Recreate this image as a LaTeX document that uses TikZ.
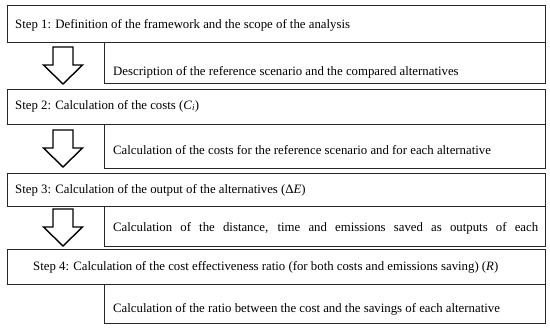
\documentclass[tikz,border=0pt]{standalone}
\usepackage{fontspec}
\setmainfont{Liberation Serif}
\begin{document}
\begin{tikzpicture}[x=1pt,y=-1pt,
  frame/.style={draw=black!85,line width=1pt,inner sep=0pt,anchor=north west},
  stepbox/.style={frame,minimum width=538pt},
  descbox/.style={frame,minimum width=441pt},
  lbl/.style={inner sep=0pt,anchor=west,font=\fontsize{12.8}{14}\selectfont},
  arrowline/.style={draw=black,line width=1.4pt,fill=white,line join=miter},
  blockarrow/.pic={\path[arrowline] (-10,0) -- (10,0) -- (10,18) -- (19.5,18) -- (0,37) -- (-19.5,18) -- (-10,18) -- cycle;}]
\useasboundingbox (0,0) rectangle (550,330);
\fill[white] (0,0) rectangle (550,330);
% boxes
\node[stepbox,minimum height=37pt] (s1) at (7,5) {};
\node[descbox,minimum height=41pt] (d1) at (104,42) {};
\node[stepbox,minimum height=35pt] (s2) at (7,89) {};
\node[descbox,minimum height=44pt] (d2) at (104,124) {};
\node[stepbox,minimum height=33pt] (s3) at (7,173) {};
\node[descbox,minimum height=40pt] (d3) at (104,206) {};
\node[stepbox,minimum height=35pt] (s4) at (7,249) {};
\node[descbox,minimum height=39pt] (d4) at (104,284) {};
% arrows
\coordinate (a1) at (63,47);
\coordinate (a2) at (63,130);
\coordinate (a3) at (63,209);
\pic at (a1) {blockarrow};
\pic at (a2) {blockarrow};
\pic at (a3) {blockarrow};
% labels
\node[lbl] (t1) at (15,25) {Step 1: Definition of the framework and the scope of the analysis};
\node[lbl] (u1) at (113,72) {Description of the reference scenario and the compared alternatives};
\node[lbl] (t2) at (15,106) {Step 2: Calculation of the costs (\textit{C}\textsubscript{\textit{i}})};
\node[lbl] (u2) at (113,150) {Calculation of the costs for the reference scenario and for each alternative};
\node[lbl] (t3) at (15,190) {Step 3: Calculation of the output of the alternatives (Δ\textit{E})};
\node[lbl] (u3) at (113,228) {\makebox[425pt][s]{Calculation of the distance, time and emissions saved as outputs of each}};
\node[lbl] (t4) at (33,267) {Step 4: Calculation of the cost effectiveness ratio (for both costs and emissions saving) (\textit{R})};
\node[lbl] (u4) at (113,309) {Calculation of the ratio between the cost and the savings of each alternative};
\end{tikzpicture}
\end{document}
